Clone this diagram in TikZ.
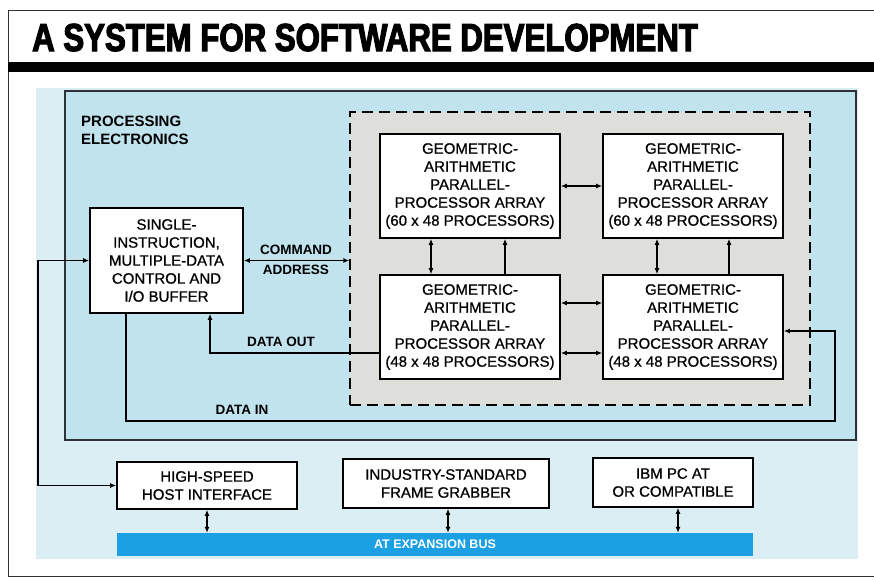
\documentclass[tikz,border=0pt]{standalone}
\usepackage{fontspec}
\setmainfont{Liberation Sans}[UprightFeatures={FakeBold=0.8}]
\newfontfamily\headfont{Liberation Sans Bold}[FakeStretch=0.8,FakeBold=3]
\usetikzlibrary{arrows.meta}

\definecolor{panelblue}{RGB}{218,238,244}
\definecolor{procblue}{RGB}{192,227,238}
\definecolor{arraygray}{RGB}{222,222,219}
\definecolor{busblue}{RGB}{28,160,228}
\definecolor{rulegray}{RGB}{45,50,55}

\tikzset{
  unit/.style={draw, fill=white, line width=1.6pt, align=center, inner sep=0pt,
    font=\fontsize{15}{18}\selectfont},
  gapp/.style={unit, minimum width=180pt, minimum height=104pt},
  tag/.style={font=\bfseries\fontsize{13.5}{20}\selectfont, inner sep=0pt, align=center},
  link/.style={line width=1.4pt},
  >={Latex[length=6pt,width=5pt]}
}

\begin{document}
\begin{tikzpicture}[x=1pt, y=-1pt]
    \useasboundingbox (0,0) rectangle (874,579);

    % frame and heading
    \draw[line width=1pt, rulegray] (874,10) -- (8,10) -- (8,576) -- (874,576);
    \fill (8,62) rectangle (874,72); % heading bar
    \node[anchor=base west, inner sep=0pt] (title) at (32,51)
        {\headfont\fontsize{39}{39}\selectfont A SYSTEM FOR SOFTWARE DEVELOPMENT};

    % backgrounds
    \node[fill=panelblue, minimum width=822pt, minimum height=471pt] (panel) at (447,323.5) {};
    \node[draw=rulegray, fill=procblue, line width=1.6pt, minimum width=791pt, minimum height=349pt] (proc) at (460.5,265.5) {};
    \node[draw, fill=arraygray, line width=1.4pt, dash pattern=on 11pt off 6pt,
        minimum width=460pt, minimum height=293pt] (array) at (580,258.5) {};
    \node[tag, anchor=west, align=left, font=\bfseries\fontsize{15}{18}\selectfont] (proclabel) at (81,130) {PROCESSING\\ELECTRONICS};

    % nodes (units)
    \node[unit, minimum width=153pt, minimum height=105pt] (simd) at (166.5,260.5)
        {SINGLE-\\INSTRUCTION,\\MULTIPLE-DATA\\CONTROL AND\\I/O BUFFER};
    \node[gapp] (gappA) at (470,186) {GEOMETRIC-\\ARITHMETIC\\PARALLEL-\\PROCESSOR ARRAY\\(60 x 48 PROCESSORS)};
    \node[gapp] (gappB) at (693,186) {GEOMETRIC-\\ARITHMETIC\\PARALLEL-\\PROCESSOR ARRAY\\(60 x 48 PROCESSORS)};
    \node[gapp] (gappC) at (470,327) {GEOMETRIC-\\ARITHMETIC\\PARALLEL-\\PROCESSOR ARRAY\\(48 x 48 PROCESSORS)};
    \node[gapp] (gappD) at (693,327) {GEOMETRIC-\\ARITHMETIC\\PARALLEL-\\PROCESSOR ARRAY\\(48 x 48 PROCESSORS)};

    \node[unit, minimum width=180pt, minimum height=47pt] (host) at (207,485.5) {HIGH-SPEED\\HOST INTERFACE};
    \node[unit, minimum width=206pt, minimum height=49pt] (grabber) at (446,483.5) {INDUSTRY-STANDARD\\FRAME GRABBER};
    \node[unit, minimum width=160pt, minimum height=49pt] (ibm) at (673,482.5) {IBM PC AT\\OR COMPATIBLE};
    \node[fill=busblue, text=white, minimum width=636pt, minimum height=23pt, inner sep=0pt,
        font=\bfseries\fontsize{12.5}{14}\selectfont] (bus) at (435,544.5) {AT EXPANSION BUS};

    % labels
    \node[tag] (cmd) at (296,260) {COMMAND\\ADDRESS};
    \node[tag] (dolabel) at (281,342) {DATA OUT};
    \node[tag] (dilabel) at (242,410) {DATA IN};

    % corners of the feed lines
    \coordinate (hostline) at (38,487);
    \coordinate (dout) at (210,353);
    \coordinate (din) at (126,421);
    \coordinate (dinr) at (835,331);

    % paths
    \draw[link, <->] (simd.east) -- (simd.east -| array.west); % command / address
    \draw[link, <->] (simd.west) -- (simd.west -| hostline) |- (host.west); % host link
    \draw[link, ->] (gappC.west |- dout) -- (dout) -- (dout |- simd.south); % data out
    \draw[link, ->] (din |- simd.south) -- (din) -| (dinr) -- (dinr -| gappD.east); % data in

    \draw[link, <->] (gappA) -- (gappB); % top pair
    \draw[link, <->] ([yshift=24pt]gappC.east) -- ([yshift=24pt]gappD.west);
    \draw[link, <->] ([yshift=-26pt]gappC.east) -- ([yshift=-26pt]gappD.west);
    \draw[link, <->] ([xshift=-39pt]gappA.south) -- ([xshift=-39pt]gappC.north);
    \draw[link, ->] ([xshift=35pt]gappC.north) -- ([xshift=35pt]gappA.south);
    \draw[link, <->] ([xshift=-36pt]gappB.south) -- ([xshift=-36pt]gappD.north);
    \draw[link, ->] ([xshift=36pt]gappD.north) -- ([xshift=36pt]gappB.south);

    % bus taps
    \draw[link, <->] (host.south) -- (host.south |- bus.north);
    \draw[link, <->] ([xshift=2pt]grabber.south) -- ([xshift=2pt]grabber.south |- bus.north);
    \draw[link, <->] ([xshift=5pt]ibm.south) -- ([xshift=5pt]ibm.south |- bus.north);

\end{tikzpicture}
\end{document}
